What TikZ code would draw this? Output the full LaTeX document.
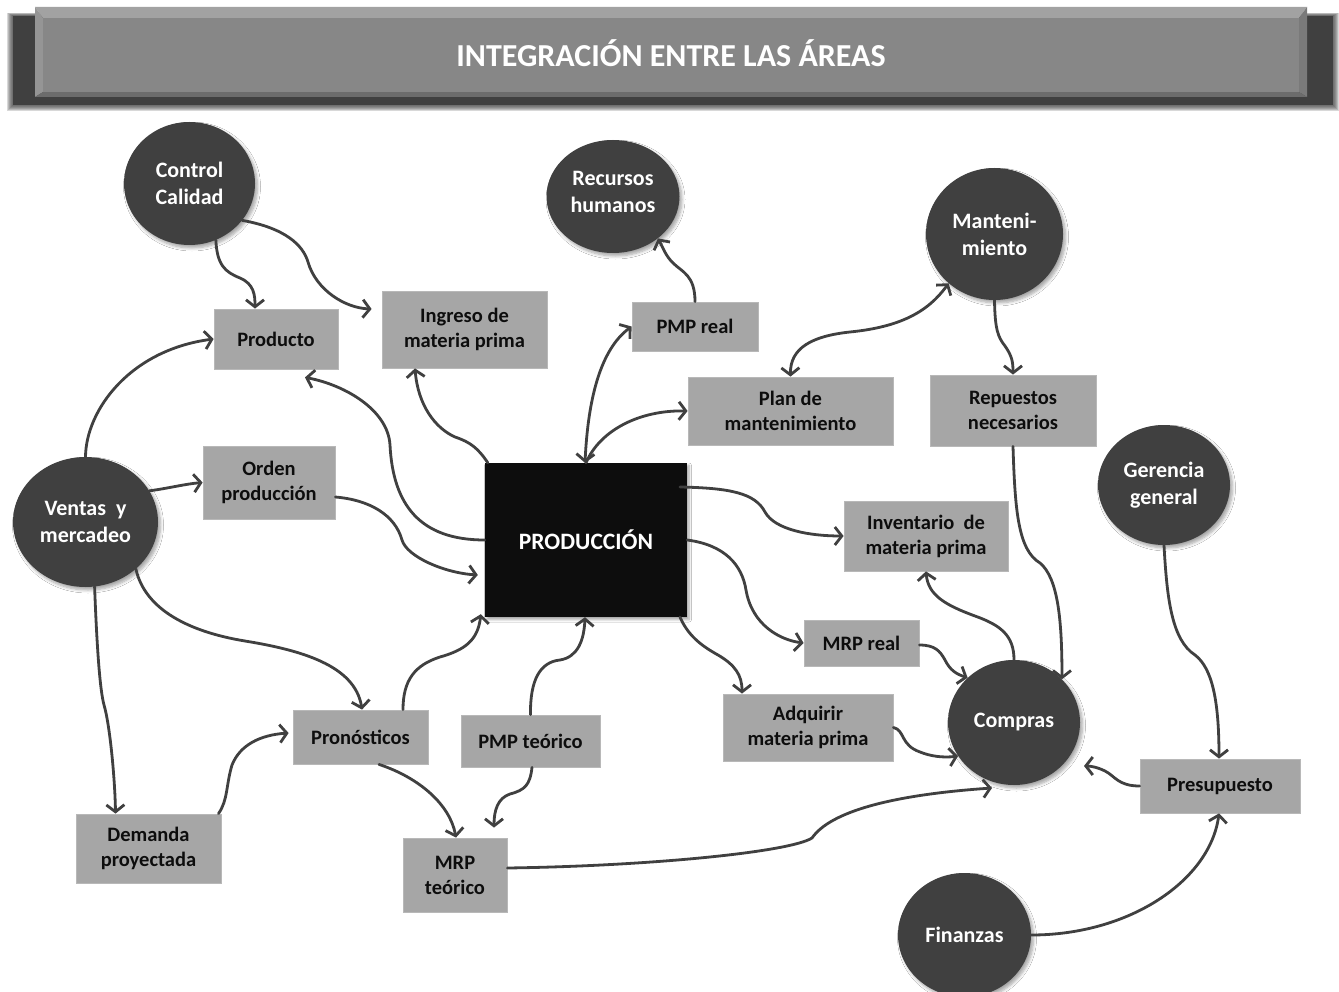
\documentclass[tikz,border=0pt]{standalone}
\usepackage{fontspec}
\setmainfont{Carlito}
\usetikzlibrary{arrows.meta,shapes.geometric,shadows.blur}

\definecolor{circc}{HTML}{404040}
\definecolor{boxc}{HTML}{A6A6A6}
\definecolor{prodc}{HTML}{0D0D0D}
\definecolor{linec}{HTML}{404040}
\definecolor{titlec}{HTML}{878787}
\definecolor{titletop}{HTML}{A2A2A2}
\definecolor{titleleft}{HTML}{959595}
\definecolor{titleright}{HTML}{7A7A7A}
\definecolor{titlebot}{HTML}{6C6C6C}
\definecolor{titleshade}{HTML}{404040}

\tikzset{
  circ/.style={ellipse, fill=circc, text=white, align=center, inner sep=0pt,
    font={\fontsize{22}{27}\selectfont\bfseries},
    blur shadow={shadow xshift=2.5pt, shadow yshift=-3pt, shadow blur radius=3pt,
      shadow blur steps=6, shadow opacity=35}},
  box/.style={rectangle, fill=boxc, draw=boxc!80!white, line width=0.8pt, text=prodc,
    align=center, inner sep=0pt, font={\fontsize{20.5}{25}\selectfont\bfseries}},
  prodbox/.style={rectangle, fill=prodc, text=white, align=center, inner sep=0pt,
    font={\fontsize{23.5}{28}\selectfont\bfseries},
    blur shadow={shadow xshift=2pt, shadow yshift=-2.5pt, shadow blur radius=2.5pt,
      shadow blur steps=5, shadow opacity=35}},
  arr/.style={draw=linec, line width=2.8pt, line cap=round,
    -{Straight Barb[length=7pt,width=18pt]}},
  darr/.style={draw=linec, line width=2.8pt, line cap=round,
    {Straight Barb[length=7pt,width=18pt]}-{Straight Barb[length=7pt,width=18pt]}},
}

\begin{document}
\begin{tikzpicture}[x=1pt,y=-1pt]
\useasboundingbox (0,0) rectangle (1339,992);
\fill[white] (0,0) rectangle (1339,992);

% ---- title banner: soft dark shadow, bevelled panel ----
\foreach \i in {1,...,6}{
  \fill[titleshade, fill opacity=0.2] (13-\i,16-0.5*\i) rectangle (1333+\i,105+\i);
}
\fill[titleshade] (13,16) rectangle (1333,105);
\fill[titletop]   (35,7) -- (1307,7) -- (1299,18) -- (43,18) -- cycle;
\fill[titleleft]  (35,7) -- (43,18) -- (43,92) -- (35,97) -- cycle;
\fill[titleright] (1307,7) -- (1307,97) -- (1299,92) -- (1299,18) -- cycle;
\fill[titlebot]   (35,97) -- (43,92) -- (1299,92) -- (1307,97) -- cycle;
\fill[titlec] (43,18) rectangle (1299,92);
\node[text=white, font={\fontsize{32}{38}\selectfont\bfseries}] (title) at (671,53) {INTEGRACIÓN ENTRE LAS ÁREAS};

% ---- areas ----
\node[circ, minimum width=131, minimum height=123] (cc) at (189.5,183.5) {Control\\Calidad};
\node[circ, minimum width=133, minimum height=113] (rh) at (613,196.5) {Recursos\\humanos\\[-18pt]\mbox{}};
\node[circ, minimum width=137, minimum height=132] (mant) at (994.5,234) {Manteni-\\miento};
\node[circ, minimum width=145, minimum height=130] (ventas) at (85.5,522) {Ventas~ y\\mercadeo};
\node[circ, minimum width=132, minimum height=120] (ger) at (1164,485) {Gerencia\\general};
\node[circ, minimum width=132, minimum height=125] (compras) at (1014,722.5) {Compras};
\node[circ, minimum width=133, minimum height=124] (fin) at (964.5,935) {Finanzas};

% ---- information boxes ----
\node[box, minimum width=124, minimum height=60] (producto) at (276,339) {Producto};
\node[box, minimum width=165, minimum height=77] (ingreso) at (464.5,329.5) {Ingreso de\\materia prima};
\node[box, minimum width=126, minimum height=49] (pmpreal) at (695,326.5) {PMP real};
\node[box, minimum width=205, minimum height=68] (plan) at (790.5,411) {Plan de\\mantenimiento};
\node[box, minimum width=166, minimum height=71] (repuestos) at (1013,410.5) {Repuestos\\necesarios};
\node[box, minimum width=132, minimum height=73] (orden) at (269,482.5) {Orden\\producción};
\node[prodbox, minimum width=202, minimum height=154] (prod) at (586,540) {PRODUCCIÓN};
\node[box, minimum width=164, minimum height=70] (inventario) at (926,536) {Inventario~ de\\materia prima};
\node[box, minimum width=115, minimum height=46] (mrpreal) at (861.5,643) {MRP real};
\node[box, minimum width=170, minimum height=67] (adquirir) at (808,727.5) {Adquirir\\materia prima};
\node[box, minimum width=139, minimum height=52] (pmpteo) at (530.5,741) {PMP teórico};
\node[box, minimum width=135, minimum height=54] (pron) at (360.5,737) {Pronósticos};
\node[box, minimum width=145, minimum height=69] (demanda) at (148.5,848.5) {Demanda\\proyectada};
\node[box, minimum width=104, minimum height=74] (mrpteo) at (455,875) {MRP\\teórico};
\node[box, minimum width=160, minimum height=54] (presup) at (1220,786) {Presupuesto};

% ---- flows ----
% Control Calidad
\draw[arr] (cc.-65) .. controls (217,265) and (225,272) .. (240,278)
  .. controls (254,284) and (255,295) .. ([shift={(-21,0)}]producto.north);
\draw[arr] (cc.-35) .. controls (285,228) and (303,245) .. (308,262)
  .. controls (316,290) and (345,308) .. ([shift={(-10,-20.5)}]ingreso.west);

% Ventas y mercadeo
\draw[arr] (ventas.north) .. controls (86,410) and (130,350) .. (producto.west);
\draw[arr] (ventas.26) .. controls (170,488) and (185,484) .. (orden.west);
\draw[arr] (ventas.-43) .. controls (145,610) and (190,632) .. (245,641)
  .. controls (300,650) and (355,665) .. ([shift={(1.5,0)}]pron.north);
\draw[arr] (ventas.-82) .. controls (97,650) and (100,690) .. (104,705)
  .. controls (110,725) and (115,780) .. ([shift={(-33,0)}]demanda.north);

% Orden de produccion
\draw[arr] ([shift={(0,14.5)}]orden.east) .. controls (370,500) and (395,515) .. (402,540)
  .. controls (407,557) and (445,573) .. ([shift={(-7,35)}]prod.west);

% Produccion
\draw[arr] (prod.west) .. controls (420,540) and (393,505) .. (390,445)
  .. controls (388,410) and (345,385) .. ([shift={(29,8)}]producto.south);
\draw[arr] ([shift={(3,0)}]prod.north west) .. controls (478,448) and (470,442) .. (455,437)
  .. controls (435,428) and (418,405) .. ([shift={(-49.5,0)}]ingreso.south);
\draw[darr] ([shift={(-1,0)}]prod.north) .. controls (588,400) and (600,350) .. (pmpreal.west);
\draw[arr] (prod.north) .. controls (600,430) and (640,410) .. (plan.west);
\draw[arr] ([shift={(94,-53)}]prod.center) .. controls (730,488) and (755,493) .. (765,512)
  .. controls (775,530) and (810,536) .. (inventario.west);
\draw[arr] (prod.east) .. controls (725,545) and (742,565) .. (746,590)
  .. controls (752,625) and (780,640) .. (mrpreal.west);
\draw[arr] ([shift={(94,0)}]prod.south) .. controls (688,635) and (700,645) .. (718,655)
  .. controls (735,665) and (742,675) .. ([shift={(-66,0)}]adquirir.north);

% PMP real and Recursos humanos
\draw[arr] (pmpreal.north) .. controls (695,275) and (682,272) .. (673,263)
  .. controls (666,256) and (664,250) .. (rh.-43);

% Mantenimiento
\draw[darr] (plan.north) .. controls (790,348) and (812,336) .. (850,332)
  .. controls (900,327) and (928,312) .. (mant.-133);
\draw[arr] (mant.south) .. controls (995,330) and (998,337) .. (1005,346)
  .. controls (1012,356) and (1013,362) .. (repuestos.north);

% Compras
\draw[arr] (repuestos.south) .. controls (1015,510) and (1018,550) .. (1040,563)
  .. controls (1058,578) and (1062,620) .. (compras.42);
\draw[arr] (compras.north) .. controls (1014,635) and (1000,625) .. (975,616)
  .. controls (945,605) and (928,595) .. (inventario.south);
\draw[arr] ([shift={(0,2)}]mrpreal.east) .. controls (935,645) and (940,651) .. (945,660)
  .. controls (950,670) and (956,674) .. (compras.136);
\draw[arr] (adquirir.east) .. controls (905,730) and (900,745) .. (920,752)
  .. controls (930,756) and (942,758) .. (compras.-149);
\draw[arr] ([shift={(0,-7)}]mrpteo.east) .. controls (650,866) and (790,852) .. (812,838)
  .. controls (830,812) and (890,795) .. ([shift={(-22,65.5)}]compras.center);
\draw[arr] (presup.west) .. controls (1118,786) and (1115,776) .. (1105,771)
  .. controls (1097,767) and (1090,766) .. ([shift={(70,43.5)}]compras.center);

% Gerencia general and Finanzas
\draw[arr] (ger.south) .. controls (1167,600) and (1172,640) .. (1195,655)
  .. controls (1212,668) and (1219,700) .. ([shift={(-1,0)}]presup.north);
\draw[arr] (fin.east) .. controls (1130,935) and (1210,880) .. ([shift={(-1,0)}]presup.south);

% Pronosticos, demanda and MRP teorico
\draw[arr] ([shift={(70,0)}]demanda.north) .. controls (228,800) and (226,785) .. (232,765)
  .. controls (240,745) and (260,735) .. ([shift={(-4,-4)}]pron.west);
\draw[arr] ([shift={(42.5,0)}]pron.north) .. controls (403,680) and (415,665) .. (440,657)
  .. controls (465,650) and (478,640) .. ([shift={(-4,-3)}]prod.south west);
\draw[arr] (pmpteo.north) .. controls (530,680) and (540,662) .. (560,660)
  .. controls (578,657) and (584,640) .. ([shift={(-1,0)}]prod.south);
\draw[arr] ([shift={(18.5,0)}]pron.south) .. controls (420,778) and (450,805) .. ([shift={(1,0)}]mrpteo.north);
\draw[arr] ([shift={(1.5,0)}]pmpteo.south) .. controls (530,785) and (525,790) .. (510,794)
  .. controls (498,798) and (494,810) .. ([shift={(39,-10)}]mrpteo.north);
\end{tikzpicture}
\end{document}
